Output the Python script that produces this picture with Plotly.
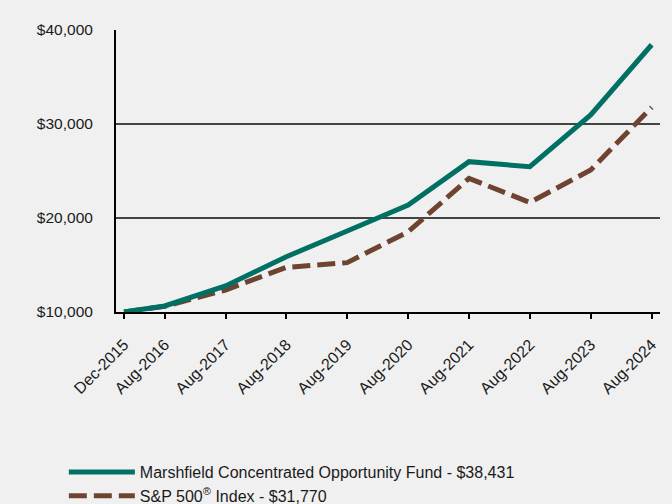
import plotly.graph_objects as go

dates = ["2015-12-31", "2016-08-31", "2017-08-31", "2018-08-31", "2019-08-31",
         "2020-08-31", "2021-08-31", "2022-08-31", "2023-08-31", "2024-08-31"]
tick_labels = ["Dec-2015", "Aug-2016", "Aug-2017", "Aug-2018", "Aug-2019",
               "Aug-2020", "Aug-2021", "Aug-2022", "Aug-2023", "Aug-2024"]
fund_values = [10000, 10640, 12770, 15880, 18620, 21380, 25990, 25460, 30960, 38431]
index_values = [10000, 10600, 12340, 14750, 15250, 18540, 24220, 21650, 25100, 31770]
fund_name = "Marshfield Concentrated Opportunity Fund - $38,431"
index_name = "S&P 500<sup>®</sup> Index - $31,770"

GREEN = "#006F64"
BROWN = "#6E4430"
BG = "#F0F0F0"

fig = go.Figure()
fig.add_trace(go.Scatter(x=dates, y=index_values, mode="lines", name=index_name,
                         line=dict(color=BROWN, width=5, dash="18px,7px"), legendrank=2))
fig.add_trace(go.Scatter(x=dates, y=fund_values, mode="lines", name=fund_name,
                         line=dict(color=GREEN, width=5), legendrank=1))

fig.update_layout(
    width=672, height=504,
    paper_bgcolor=BG, plot_bgcolor=BG,
    margin=dict(l=116, r=12, t=30, b=192, autoexpand=False),
    font=dict(family="Liberation Sans, Arial, sans-serif", size=15, color="#1a1a1a"),
    showlegend=True,
    legend=dict(xref="container", yref="container", x=0.095, y=0.097,
                xanchor="left", yanchor="top", itemwidth=66,
                bgcolor="rgba(0,0,0,0)", font=dict(size=16), tracegroupgap=0),
    xaxis=dict(type="date", range=["2015-11-13", "2024-10-20"],
               tickmode="array", tickvals=dates, ticktext=tick_labels, tickangle=-45,
               showgrid=False, zeroline=False, showline=True, linecolor="black", linewidth=2,
               ticks="outside", ticklen=5, tickwidth=2, tickcolor="black",
               ticklabelstandoff=10, tickfont=dict(size=16)),
    yaxis=dict(range=[10000, 40000], tickvals=[10000, 20000, 30000, 40000],
               ticktext=["$10,000", "$20,000", "$30,000", "$40,000"],
               showgrid=True, gridcolor="#444444", gridwidth=2, zeroline=False,
               showline=True, linecolor="black", linewidth=2,
               ticks="outside", ticklen=0, ticklabelstandoff=18, tickfont=dict(size=15.5)),
)

fig.write_html("out.html", config={"displayModeBar": False},
               post_script="document.body.style.margin='0';")
